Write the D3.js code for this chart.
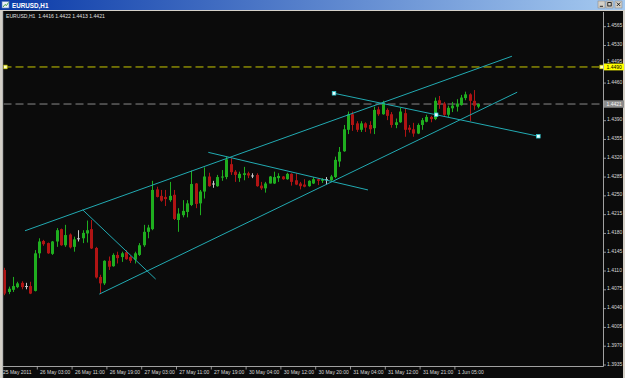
<!DOCTYPE html>
<html>
<head>
<meta charset="utf-8">
<script src="https://cdn.jsdelivr.net/npm/d3@7"></script>
<style>
html, body { margin: 0; padding: 0; background: #d4d0c8; overflow: hidden; }
</style>
</head>
<body>
<svg id="chart" width="625" height="378"></svg>
<script>
const windowTitle = 'EURUSD,H1';
const headerText = 'EURUSD,H1  1.4416 1.4422 1.4413 1.4421';

// H1 bars, oldest first
const opens = [1.4112,1.4071,1.4075,1.4080,1.4088,1.4082,1.4082,1.4073,1.4143,1.4166,
  1.4162,1.4142,1.4165,1.4188,1.4158,1.4178,1.4155,1.4171,1.4171,1.4180,
  1.4188,1.4153,1.4099,1.4087,1.4129,1.4119,1.4140,1.4136,1.4145,1.4136,
  1.4131,1.4140,1.4158,1.4183,1.4188,1.4262,1.4250,1.4248,1.4242,1.4252,
  1.4205,1.4214,1.4220,1.4233,1.4273,1.4236,1.4258,1.4286,1.4273,1.4268,
  1.4284,1.4285,1.4309,1.4295,1.4283,1.4289,1.4292,1.4288,1.4289,1.4269,
  1.4264,1.4273,1.4273,1.4283,1.4286,1.4281,1.4291,1.4279,1.4273,1.4271,
  1.4268,1.4273,1.4281,1.4278,1.4281,1.4279,1.4285,1.4314,1.4333,1.4373,
  1.4402,1.4385,1.4373,1.4385,1.4382,1.4376,1.4411,1.4402,1.4410,1.4402,
  1.4382,1.4387,1.4404,1.4377,1.4374,1.4366,1.4382,1.4388,1.4397,1.4393,
  1.4428,1.4422,1.4401,1.4413,1.4416,1.4419,1.4432,1.4439,1.4427,1.4416];
const highs = [1.4116,1.4081,1.4099,1.4090,1.4091,1.4088,1.4090,1.4149,1.4171,1.4168,
  1.4163,1.4166,1.4190,1.4189,1.4196,1.4180,1.4174,1.4186,1.4186,1.4204,
  1.4205,1.4155,1.4103,1.4130,1.4137,1.4143,1.4146,1.4146,1.4149,1.4138,
  1.4146,1.4162,1.4196,1.4196,1.4278,1.4267,1.4261,1.4261,1.4276,1.4261,
  1.4227,1.4242,1.4242,1.4297,1.4274,1.4261,1.4303,1.4293,1.4278,1.4289,
  1.4298,1.4323,1.4320,1.4298,1.4295,1.4304,1.4295,1.4292,1.4292,1.4276,
  1.4276,1.4287,1.4295,1.4292,1.4287,1.4293,1.4292,1.4292,1.4276,1.4281,
  1.4279,1.4285,1.4283,1.4283,1.4285,1.4289,1.4323,1.4341,1.4382,1.4407,
  1.4407,1.4389,1.4389,1.4387,1.4389,1.4416,1.4416,1.4427,1.4413,1.4406,
  1.4394,1.4414,1.4413,1.4382,1.4386,1.4385,1.4395,1.4401,1.4399,1.4433,
  1.4436,1.4425,1.4418,1.4425,1.4430,1.4438,1.4444,1.4441,1.4447,1.4422];
const lows = [1.4065,1.4067,1.4071,1.4078,1.4076,1.4076,1.4067,1.4072,1.4134,1.4157,
  1.4142,1.4140,1.4155,1.4157,1.4155,1.4152,1.4146,1.4165,1.4162,1.4163,
  1.4151,1.4096,1.4067,1.4084,1.4112,1.4118,1.4124,1.4127,1.4131,1.4125,
  1.4124,1.4138,1.4155,1.4171,1.4186,1.4247,1.4239,1.4231,1.4239,1.4205,
  1.4183,1.4210,1.4210,1.4231,1.4227,1.4214,1.4245,1.4267,1.4265,1.4267,
  1.4278,1.4281,1.4289,1.4276,1.4276,1.4279,1.4283,1.4283,1.4267,1.4261,
  1.4256,1.4273,1.4272,1.4276,1.4280,1.4280,1.4269,1.4270,1.4262,1.4266,
  1.4267,1.4272,1.4270,1.4274,1.4271,1.4278,1.4283,1.4304,1.4332,1.4365,
  1.4371,1.4369,1.4369,1.4369,1.4366,1.4365,1.4399,1.4401,1.4391,1.4377,
  1.4376,1.4386,1.4360,1.4368,1.4360,1.4365,1.4373,1.4387,1.4387,1.4391,
  1.4412,1.4399,1.4397,1.4406,1.4407,1.4418,1.4428,1.4389,1.4410,1.4413];
const closes = [1.4068,1.4077,1.4082,1.4087,1.4080,1.4082,1.4068,1.4143,1.4165,1.4160,
  1.4143,1.4165,1.4186,1.4158,1.4177,1.4154,1.4169,1.4171,1.4181,1.4186,
  1.4152,1.4098,1.4087,1.4129,1.4118,1.4140,1.4134,1.4143,1.4132,1.4129,
  1.4143,1.4158,1.4183,1.4191,1.4261,1.4248,1.4241,1.4244,1.4250,1.4207,
  1.4217,1.4222,1.4236,1.4272,1.4235,1.4258,1.4286,1.4268,1.4273,1.4285,
  1.4286,1.4318,1.4294,1.4289,1.4291,1.4292,1.4288,1.4288,1.4268,1.4264,
  1.4273,1.4286,1.4285,1.4287,1.4281,1.4291,1.4276,1.4271,1.4268,1.4267,
  1.4278,1.4281,1.4278,1.4281,1.4281,1.4286,1.4317,1.4332,1.4374,1.4402,
  1.4382,1.4373,1.4385,1.4377,1.4374,1.4410,1.4402,1.4424,1.4399,1.4382,
  1.4387,1.4407,1.4373,1.4373,1.4366,1.4382,1.4391,1.4397,1.4393,1.4427,
  1.4420,1.4401,1.4414,1.4418,1.4422,1.4433,1.4439,1.4427,1.4418,1.4421];

const timeLabels = ['25 May 2011','26 May 03:00','26 May 11:00','26 May 19:00','27 May 03:00',
  '27 May 11:00','27 May 19:00','30 May 04:00','30 May 12:00','30 May 20:00',
  '31 May 04:00','31 May 12:00','31 May 21:00','1 Jun 05:00'];
const timeLabelBars = [0, 8, 16, 24, 32, 40, 48, 56, 64, 72, 80, 88, 96, 104];

const priceTicks = [1.4565,1.4530,1.4495,1.4460,1.4425,1.4390,1.4355,1.4320,1.4285,1.4250,
  1.4215,1.4180,1.4145,1.4110,1.4075,1.4040,1.4005,1.3970,1.3935];

// trend lines as [barIndex, price] anchor pairs
const channelLines = [
  [[4.76, 1.4185], [116.7, 1.4510]],
  [[21.84, 1.4067], [117.9, 1.4443]],
  [[18.02, 1.4224], [34.8, 1.4095]],
  [[46.9, 1.4331], [83.6, 1.4261]]
];
const selectedLine = [[75.8, 1.4441], [122.77, 1.4361]];
const alertLevel = 1.4490;
const bidLevel = 1.4421;

const svg = d3.select('#chart');
const W = 625, H = 378;
const plotLeft = 3.5, plotRight = 603.5, plotTop = 12, plotBottom = 366.5;
const font = "'Liberation Sans', Arial, sans-serif";

const x = d3.scaleLinear().domain([0, 109]).range([4.3, 478.45]);
const y = d3.scaleLinear().domain([1.3935, 1.4565]).range([365, 26.7]);

// window frame
svg.append('rect').attr('width', W).attr('height', H).attr('fill', '#d4d0c8');
const defs = svg.append('defs');
const grad = defs.append('linearGradient').attr('id', 'tb');
grad.append('stop').attr('offset', '0%').attr('stop-color', '#0a3aa8');
grad.append('stop').attr('offset', '100%').attr('stop-color', '#a6caf0');
svg.append('rect').attr('width', W).attr('height', 10).attr('fill', 'url(#tb)');
svg.append('rect').attr('x', 2).attr('y', 1.5).attr('width', 7).attr('height', 6.5)
  .attr('fill', '#e8eef8').attr('stroke', '#5a7ab8').attr('stroke-width', 0.6);
svg.append('path').attr('d', 'M3,7 L5,4.5 L6.5,5.5 L8.5,2.5').attr('fill', 'none')
  .attr('stroke', '#1a8a1a').attr('stroke-width', 0.8);
svg.append('text').attr('x', 12).attr('y', 7.6).attr('fill', '#fff')
  .style('font-family', font).style('font-size', '6.3px').style('font-weight', 'bold')
  .text(windowTitle);
[598, 606, 615].forEach((bx, k) => {
  svg.append('rect').attr('x', bx).attr('y', 1).attr('width', 7).attr('height', 7)
    .attr('fill', '#d4d0c8').attr('stroke', '#808080').attr('stroke-width', 0.5);
  const g = svg.append('g').attr('stroke', '#000').attr('stroke-width', 0.8).attr('fill', 'none');
  if (k === 0) g.append('line').attr('x1', bx + 1.8).attr('x2', bx + 5).attr('y1', 6.3).attr('y2', 6.3);
  if (k === 1) g.append('rect').attr('x', bx + 1.8).attr('y', 2.6).attr('width', 3.4).attr('height', 3.4);
  if (k === 2) {
    g.append('line').attr('x1', bx + 1.8).attr('x2', bx + 5.2).attr('y1', 2.6).attr('y2', 6);
    g.append('line').attr('x1', bx + 5.2).attr('x2', bx + 1.8).attr('y1', 2.6).attr('y2', 6);
  }
});

// chart background
svg.append('rect').attr('x', 2.5).attr('y', 11).attr('width', W - 4.5).attr('height', H - 11)
  .attr('fill', '#0b0b0b');
svg.append('line').attr('x1', 2.7).attr('x2', 2.7).attr('y1', 11).attr('y2', H)
  .attr('stroke', '#e0e0e0').attr('stroke-width', 0.8);

defs.append('clipPath').attr('id', 'plot')
  .append('rect').attr('x', plotLeft).attr('y', plotTop)
  .attr('width', plotRight - plotLeft).attr('height', plotBottom - plotTop);
const plot = svg.append('g').attr('clip-path', 'url(#plot)');

// horizontal levels
plot.append('line').attr('x1', plotLeft).attr('x2', plotRight)
  .attr('y1', y(alertLevel)).attr('y2', y(alertLevel))
  .attr('stroke', '#c8c800').attr('stroke-width', 1).attr('stroke-dasharray', '8,4');
plot.append('line').attr('x1', plotLeft).attr('x2', plotRight)
  .attr('y1', y(bidLevel)).attr('y2', y(bidLevel))
  .attr('stroke', '#8a8a8a').attr('stroke-width', 1).attr('stroke-dasharray', '8,4');

// candles
const bars = d3.range(opens.length).map(i => ({
  i, o: opens[i], h: highs[i], l: lows[i], c: closes[i]
}));
const colorOf = d => d.c > d.o ? '#1fae1f' : (d.c < d.o ? '#b01414' : '#c8c8c8');
const candles = plot.append('g').selectAll('g').data(bars).enter().append('g');
candles.append('line')
  .attr('x1', d => Math.round(x(d.i)) + 0.5).attr('x2', d => Math.round(x(d.i)) + 0.5)
  .attr('y1', d => y(d.h)).attr('y2', d => y(d.l))
  .attr('stroke', colorOf).attr('stroke-width', 1);
candles.append('rect')
  .attr('x', d => Math.round(x(d.i)) - 1)
  .attr('y', d => y(Math.max(d.o, d.c)))
  .attr('width', 3)
  .attr('height', d => Math.max(1, Math.abs(y(d.o) - y(d.c))))
  .attr('fill', colorOf);

// trend lines
const lineGen = d3.line().x(d => x(d[0])).y(d => y(d[1]));
plot.append('g').selectAll('path').data(channelLines.concat([selectedLine])).enter().append('path')
  .attr('d', lineGen).attr('fill', 'none').attr('stroke', '#22aab2').attr('stroke-width', 1);

// selection markers on the selected line (ends and middle)
const mid = [(selectedLine[0][0] + selectedLine[1][0]) / 2, (selectedLine[0][1] + selectedLine[1][1]) / 2];
plot.append('g').selectAll('rect').data([selectedLine[0], mid, selectedLine[1]]).enter().append('rect')
  .attr('x', d => x(d[0]) - 1.8).attr('y', d => y(d[1]) - 1.8).attr('width', 3.6).attr('height', 3.6)
  .attr('fill', '#e8ffff').attr('stroke', '#22c8d0').attr('stroke-width', 0.7);
// markers on the horizontal level
[plotLeft + 1.8, plotRight - 1.8].forEach(mx => {
  plot.append('rect').attr('x', mx - 1.8).attr('y', y(alertLevel) - 1.8).attr('width', 3.6).attr('height', 3.6)
    .attr('fill', '#ffffc0').attr('stroke', '#d8d800').attr('stroke-width', 0.7);
});

// header text
svg.append('text').attr('x', 6).attr('y', 17.8).attr('fill', '#e0e0e0')
  .style('font-family', font).style('font-size', '5.1px').style('white-space', 'pre')
  .text(headerText);

// axes lines
svg.append('line').attr('x1', plotRight).attr('x2', plotRight).attr('y1', plotTop).attr('y2', plotBottom)
  .attr('stroke', '#c8c8c8').attr('stroke-width', 0.8);
svg.append('line').attr('x1', 2.7).attr('x2', plotRight).attr('y1', plotBottom).attr('y2', plotBottom)
  .attr('stroke', '#c8c8c8').attr('stroke-width', 0.8);

// price scale (a tick label hidden under a level label is not drawn, as in the terminal)
const pAxis = svg.append('g');
priceTicks.forEach(p => {
  pAxis.append('line').attr('x1', plotRight).attr('x2', plotRight + 2.5).attr('y1', y(p)).attr('y2', y(p))
    .attr('stroke', '#c8c8c8').attr('stroke-width', 0.7);
  if (Math.abs(y(p) - y(bidLevel)) < 3) return;
  const ty = Math.abs(y(p) - y(alertLevel)) < 4 ? y(alertLevel) - 4 : y(p) + 0.5;
  pAxis.append('text').attr('x', 607).attr('y', ty).attr('fill', '#d8d8d8')
    .style('font-family', font).style('font-size', '5px').text(p.toFixed(4));
});

// price labels of the levels
svg.append('rect').attr('x', plotRight + 0.5).attr('y', y(alertLevel) - 3.4).attr('width', 20).attr('height', 6.8)
  .attr('fill', '#ffff00');
svg.append('text').attr('x', 606.5).attr('y', y(alertLevel) + 1.9).attr('fill', '#000')
  .style('font-family', font).style('font-size', '5px').text(alertLevel.toFixed(4));
svg.append('rect').attr('x', plotRight + 0.5).attr('y', y(bidLevel) - 3.7).attr('width', 20).attr('height', 7.4)
  .attr('fill', '#8c8c8c');
svg.append('text').attr('x', 606.5).attr('y', y(bidLevel) + 1.9).attr('fill', '#f4f4f4')
  .style('font-family', font).style('font-size', '5px').text(bidLevel.toFixed(4));

// time scale
const tAxis = svg.append('g');
timeLabels.forEach((t, k) => {
  const bx = x(timeLabelBars[k]);
  if (k > 0) {
    tAxis.append('line').attr('x1', bx - 1.8).attr('x2', bx - 1.8).attr('y1', plotBottom).attr('y2', plotBottom + 3)
      .attr('stroke', '#c8c8c8').attr('stroke-width', 0.7);
  }
  tAxis.append('text').attr('x', k === 0 ? 3 : bx + 1).attr('y', 373.8).attr('fill', '#d8d8d8')
    .style('font-family', font).style('font-size', '5px').text(t);
});
</script>
</body>
</html>
